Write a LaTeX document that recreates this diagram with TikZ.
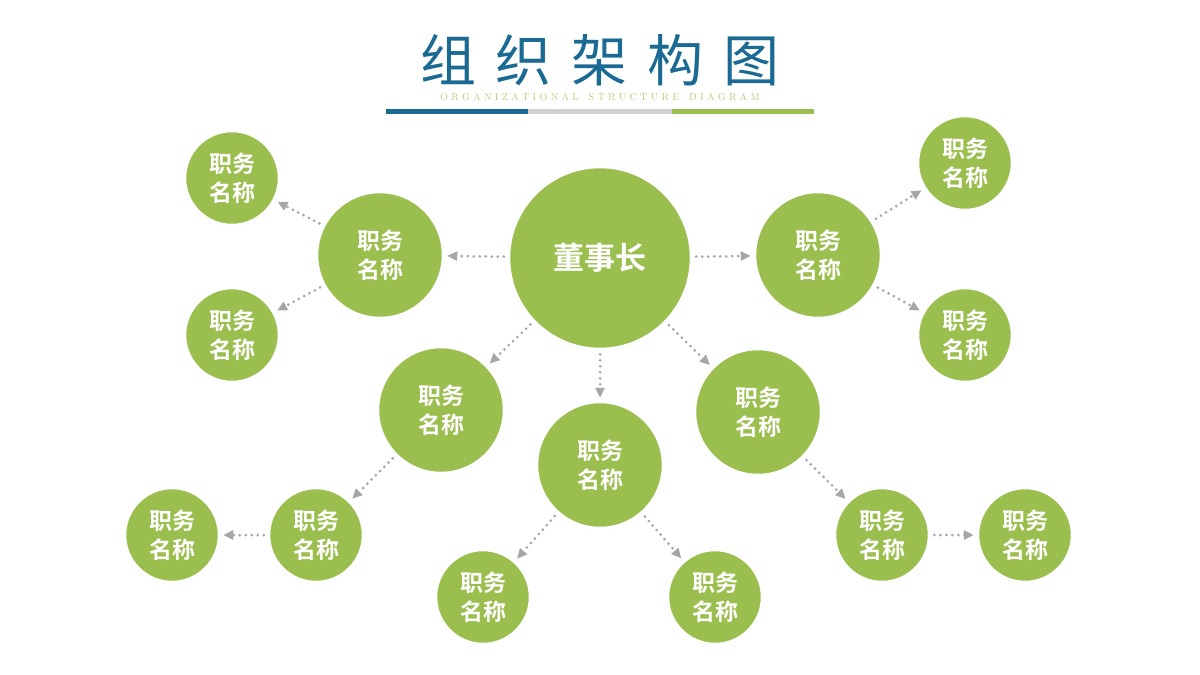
\documentclass[tikz,border=0pt]{standalone}
\usepackage{fontspec}
\newfontfamily\cjk{Noto Sans CJK SC}
\newfontfamily\cjkb{Noto Sans CJK SC Bold}
\usetikzlibrary{arrows.meta,shadows}
\definecolor{leafgreen}{HTML}{9BBF4F}
\definecolor{titleblue}{HTML}{1A6A93}
\definecolor{linegray}{HTML}{A6A6A6}
\tikzset{>={Triangle[length=10pt,width=9pt]}}
\begin{document}
\begin{tikzpicture}[x=1pt,y=-1pt,
    post/.style={circle,fill=leafgreen,draw=white,line width=2.5pt,text=white,
      align=center,font=\cjkb\fontsize{23}{29}\selectfont,inner sep=0pt,
      drop shadow={shadow xshift=0pt,shadow yshift=-1pt,opacity=.25}},
    big/.style={post,minimum size=126pt},
    leaf/.style={post,minimum size=94pt},
    link/.style={->,draw=linegray,line width=3pt,dash pattern=on 0pt off 6pt,line cap=round,shorten >=3pt,shorten <=4pt}]
  \fill[white] (0,0) rectangle (1200,675);
  \useasboundingbox (0,0) rectangle (1200,675);
  % title
  \node[text=titleblue,font=\cjk\fontsize{56}{60}\selectfont] (title) at (600,60) {组\hspace{20pt}织\hspace{20pt}架\hspace{20pt}构\hspace{20pt}图};
  \node[text=leafgreen!75!white,font=\fontsize{10}{11}\selectfont] (sub) at (600,97) {O\,\,R\,\,G\,\,A\,\,N\,\,I\,\,Z\,\,A\,\,T\,\,I\,\,O\,\,N\,\,A\,\,L\quad S\,\,T\,\,R\,\,U\,\,C\,\,T\,\,U\,\,R\,\,E\quad D\,\,I\,\,A\,\,G\,\,R\,\,A\,\,M};
  \fill[titleblue] (386,109) rectangle (528,114);
  \fill[black!18] (528,109) rectangle (672,114);
  \fill[leafgreen] (672,109) rectangle (814,114);
  % posts
  \node[post,minimum size=182pt,font=\cjkb\fontsize{31}{34}\selectfont] (boss) at (600,258) {董事长};
  \node[big] (l) at (380,255) {职务\\名称};
  \node[big] (r) at (818,255) {职务\\名称};
  \node[big] (dl) at (441,410) {职务\\名称};
  \node[big] (d) at (600,465) {职务\\名称};
  \node[big] (dr) at (758,412) {职务\\名称};
  \node[leaf] (l1) at (232,178) {职务\\名称};
  \node[leaf] (l2) at (232,335) {职务\\名称};
  \node[leaf] (r1) at (965,163) {职务\\名称};
  \node[leaf] (r2) at (965,335) {职务\\名称};
  \node[leaf] (dl1) at (316,535) {职务\\名称};
  \node[leaf] (dl2) at (172,535) {职务\\名称};
  \node[leaf] (d1) at (483,597) {职务\\名称};
  \node[leaf] (d2) at (715,597) {职务\\名称};
  \node[leaf] (dr1) at (882,535) {职务\\名称};
  \node[leaf] (dr2) at (1025,535) {职务\\名称};
  % links
  \foreach \a/\b in {boss/l,boss/r,boss/dl,boss/d,boss/dr,l/l1,l/l2,r/r1,r/r2,
      dl/dl1,dl1/dl2,d/d1,d/d2,dr/dr1,dr1/dr2}
    \draw[link] (\a) -- (\b);
\end{tikzpicture}
\end{document}
